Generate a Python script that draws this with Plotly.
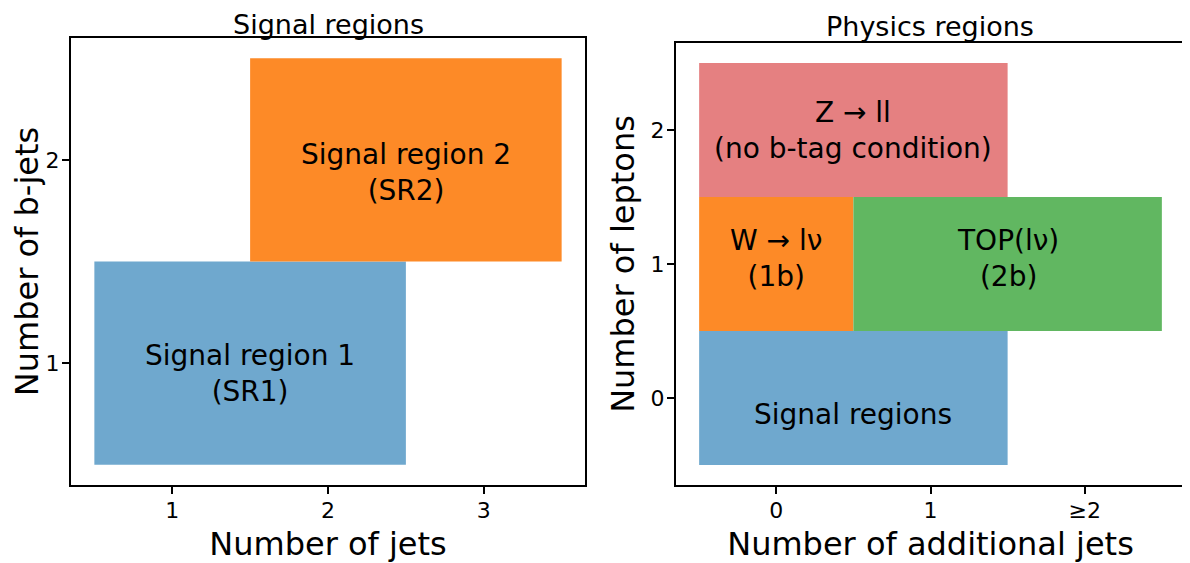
import plotly.graph_objects as go

# ---------------- data ----------------
# Left panel: signal regions (x = number of jets, y = number of b-jets)
sig_names = ["Signal region 1<br>(SR1)", "Signal region 2<br>(SR2)"]
sig_x0 = [0.5, 1.5]
sig_x1 = [2.5, 3.5]
sig_y0 = [0.5, 1.5]
sig_y1 = [1.5, 2.5]
sig_label_x = [1.5, 2.5]
sig_label_y = [0.95, 1.94]
sig_colors = ["rgb(111,168,206)", "rgb(253,138,39)"]

sig_xticks = [1, 2, 3]
sig_xticklabels = ["1", "2", "3"]
sig_yticks = [1, 2]
sig_yticklabels = ["1", "2"]

# Right panel: physics regions (x = additional jets, y = leptons)
phys_names = ["Z → ll<br>(no b-tag condition)", "W → lν<br>(1b)",
              "TOP(lν)<br>(2b)", "Signal regions"]
phys_x0 = [-0.5, -0.5, 0.5, -0.5]
phys_x1 = [1.5, 0.5, 2.5, 1.5]
phys_y0 = [1.5, 0.5, 0.5, -0.5]
phys_y1 = [2.5, 1.5, 1.5, 0.5]
phys_label_x = [0.5, 0.0, 1.5, 0.5]
phys_label_y = [2.0, 1.04, 1.04, -0.12]
phys_colors = ["rgb(229,128,129)", "rgb(253,138,39)",
               "rgb(97,183,97)", "rgb(111,168,206)"]

phys_xticks = [0, 1, 2]
phys_xticklabels = ["0", "1", "≥2"]
phys_yticks = [0, 1, 2]
phys_yticklabels = ["0", "1", "2"]

FONT = "DejaVu Sans"
OFF = 8          # page body margin
W, H = 1190 - OFF, 563 - OFF


def px_x(p):
    return min(1.0, max(0.0, (p - OFF) / W))


def px_y(p):
    return min(1.0, max(0.0, 1 - (p - OFF) / H))


fig = go.Figure()


def add_rects(x0s, x1s, y0s, y1s, colors, xa, ya):
    for x0, x1, y0, y1, c in zip(x0s, x1s, y0s, y1s, colors):
        fig.add_trace(go.Scatter(
            x=[x0, x1, x1, x0, x0], y=[y0, y0, y1, y1, y0],
            mode="lines", fill="toself", fillcolor=c,
            line=dict(width=0, color=c), hoverinfo="skip",
            showlegend=False, xaxis=xa, yaxis=ya))


add_rects(sig_x0, sig_x1, sig_y0, sig_y1, sig_colors, "x", "y")
add_rects(phys_x0, phys_x1, phys_y0, phys_y1, phys_colors, "x2", "y2")

annotations = []
for t, x, y in zip(sig_names, sig_label_x, sig_label_y):
    annotations.append(dict(text=t, x=x, y=y, xref="x", yref="y",
                            showarrow=False,
                            font=dict(family=FONT, size=28, color="black")))
for t, x, y in zip(phys_names, phys_label_x, phys_label_y):
    annotations.append(dict(text=t, x=x, y=y, xref="x2", yref="y2",
                            showarrow=False,
                            font=dict(family=FONT, size=28, color="black")))

annotations.append(dict(text="Signal regions", x=px_x(328), y=1.0,
                        xref="paper", yref="paper", xanchor="center", yanchor="top",
                        borderpad=0, showarrow=False,
                        font=dict(family=FONT, size=27, color="black")))
annotations.append(dict(text="Physics regions", x=px_x(930), y=1.0, yshift=-2,
                        xref="paper", yref="paper", xanchor="center", yanchor="top",
                        borderpad=0, showarrow=False,
                        font=dict(family=FONT, size=27, color="black")))

axis_common = dict(showgrid=False, zeroline=False, showline=True, mirror=True,
                   linecolor="black", linewidth=2, ticks="outside", ticklen=7,
                   tickwidth=2, tickcolor="black", ticklabelstandoff=-2,
                   tickfont=dict(family=FONT, size=22, color="black"))

TF = dict(family=FONT, size=32, color="black")

fig.update_layout(
    width=W, height=H,
    margin=dict(l=0, r=0, t=0, b=0),
    paper_bgcolor="white", plot_bgcolor="white",
    annotations=annotations,
    xaxis=dict(domain=[px_x(71), px_x(585)], range=[0.35, 3.65],
               tickvals=sig_xticks, ticktext=sig_xticklabels, anchor="y",
               title=dict(text="Number of jets", standoff=10, font=TF),
               **axis_common),
    yaxis=dict(domain=[px_y(485), px_y(38)], range=[0.4, 2.6],
               tickvals=sig_yticks, ticktext=sig_yticklabels, anchor="x",
               title=dict(text="Number of b-jets", standoff=6, font=TF),
               **axis_common),
    xaxis2=dict(domain=[px_x(676), px_x(1185)], range=[-0.65, 2.65],
                tickvals=phys_xticks, ticktext=phys_xticklabels, anchor="y2",
                title=dict(text="Number of additional jets", standoff=10, font=TF),
                **axis_common),
    yaxis2=dict(domain=[px_y(485), px_y(43)], range=[-0.65, 2.65],
                tickvals=phys_yticks, ticktext=phys_yticklabels, anchor="x2",
                title=dict(text="Number of leptons", standoff=6, font=TF),
                **axis_common),
)

fig.write_html("out.html")
